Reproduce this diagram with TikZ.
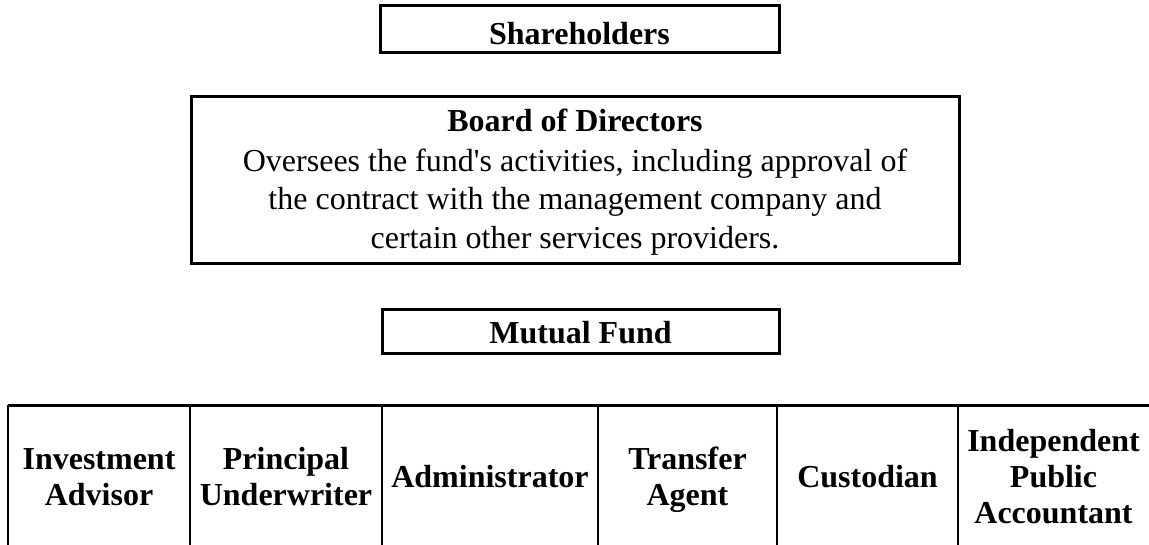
\documentclass[tikz,border=0pt]{standalone}
\usepackage{fontspec}
\setmainfont{Liberation Serif}
\usepackage{xcolor}
\usepackage{tikz}

\tikzset{
  box/.style={draw=black, line width=1.5pt, inner sep=0pt},
  txt/.style={inner sep=0pt, font=\fontsize{16}{19}\selectfont},
  cell/.style={inner sep=0pt, align=center, font=\fontsize{16}{18}\selectfont\bfseries},
  rule/.style={black, line width=1pt}
}

\begin{document}
\begin{tikzpicture}[x=0.5pt, y=-0.5pt]
    \useasboundingbox (0,0) rectangle (1149,545);

    % boxes
    \node[box, minimum width=199.5pt, minimum height=23.5pt] (share) at (579.5,29.5) {};
    \node[box, minimum width=384pt, minimum height=83pt] (board) at (575,180) {};
    \node[box, minimum width=198.5pt, minimum height=22pt] (fund) at (580.5,331) {};

    % label (base = last line)
    \node[txt, anchor=base] (shareText) at (579.5,45) {\bfseries Shareholders};
    \node[txt, anchor=base, align=center] (boardText) at (575,248)
      {\textbf{Board of Directors}\\[1.5pt]
       Oversees the fund\textquotesingle s activities, including approval of\\
       the contract with the management company and\\
       certain other services providers.};
    \node[txt, anchor=base] (fundText) at (580.5,343) {\bfseries Mutual Fund};

    % table
    \draw [black, line width=1.5pt] (8,405) -- (1149,405);
    \draw [rule] (8,405) -- (8,545);
    \draw [rule] (190,405) -- (190,545);
    \draw [rule] (382,405) -- (382,545);
    \draw [rule] (598,405) -- (598,545);
    \draw [rule] (777,405) -- (777,545);
    \draw [rule] (958,405) -- (958,545);

    % cells
    \node[cell, anchor=base] (advisor) at (99,505) {Investment\\Advisor};
    \node[cell, anchor=base] (underwriter) at (286,505) {Principal\\Underwriter};
    \node[cell, anchor=base] (admin) at (490,487) {Administrator};
    \node[cell, anchor=base] (agent) at (687.5,505) {Transfer\\Agent};
    \node[cell, anchor=base] (custodian) at (867.5,487) {Custodian};
    \node[cell, anchor=base] (accountant) at (1053.5,523) {Independent\\Public\\Accountant};
\end{tikzpicture}
\end{document}
